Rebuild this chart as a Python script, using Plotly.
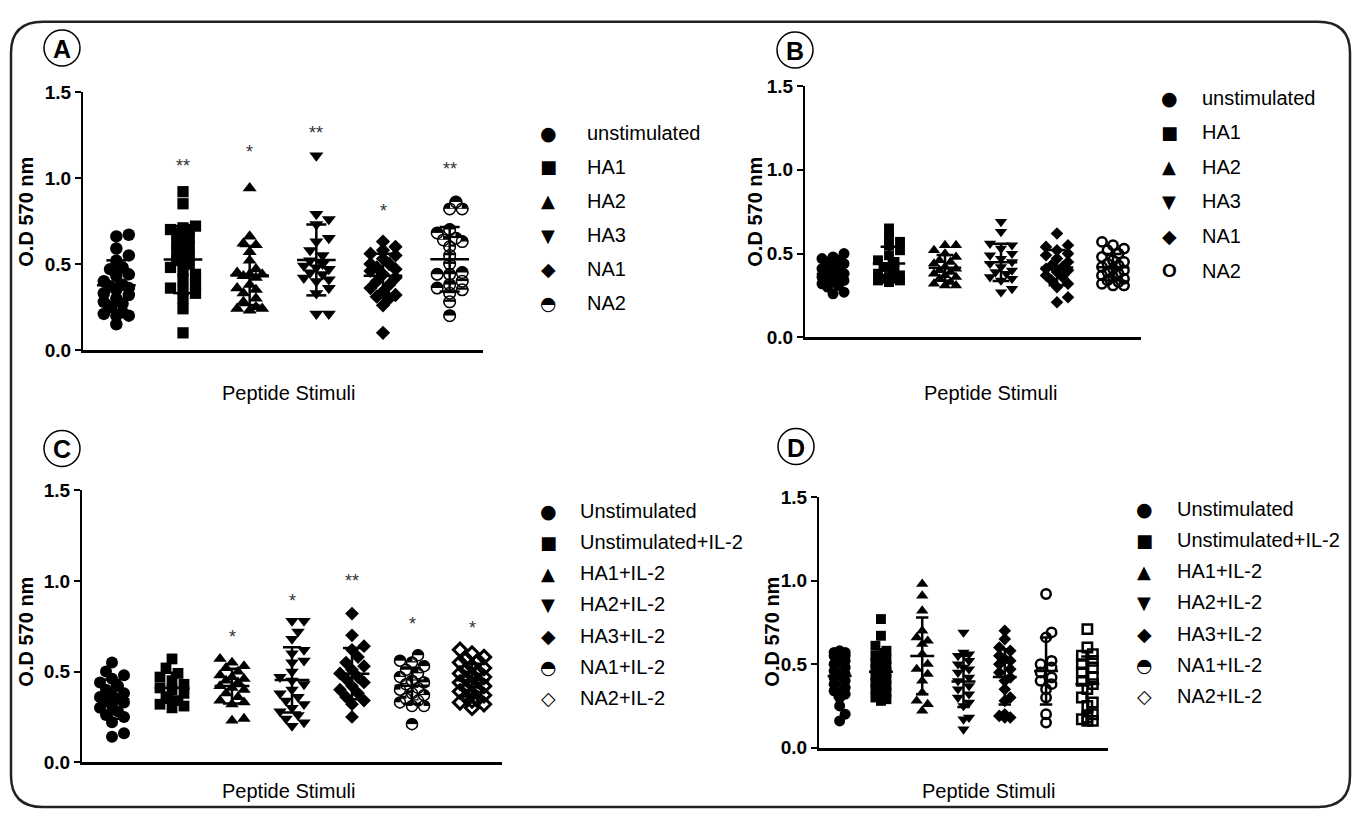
import numpy as np
import plotly.graph_objects as go

W, H = 1357, 820
FONT = "Liberation Sans, Arial, sans-serif"
GLYPH = "DejaVu Sans"

# ---------------- data ----------------
# Panel A
a_labels = ["unstimulated", "HA1", "HA2", "HA3", "NA1", "NA2"]
a_unstim = [0.67, 0.66, 0.59, 0.55, 0.52, 0.48, 0.47, 0.44, 0.43, 0.40, 0.38, 0.37, 0.36,
            0.35, 0.33, 0.32, 0.30, 0.28, 0.27, 0.25, 0.22, 0.21, 0.20, 0.20, 0.15]
a_ha1 = [0.92, 0.85, 0.72, 0.71, 0.70, 0.70, 0.68, 0.65, 0.62, 0.60, 0.57, 0.55, 0.52,
         0.50, 0.48, 0.46, 0.44, 0.41, 0.38, 0.36, 0.35, 0.33, 0.30, 0.24, 0.10]
a_ha2 = [0.94, 0.66, 0.62, 0.61, 0.57, 0.52, 0.47, 0.45, 0.44, 0.44, 0.43, 0.42, 0.38,
         0.36, 0.35, 0.33, 0.30, 0.28, 0.25, 0.24, 0.24, 0.23]
a_ha3 = [1.13, 0.79, 0.76, 0.73, 0.65, 0.63, 0.58, 0.55, 0.52, 0.50, 0.49, 0.48, 0.47,
         0.45, 0.44, 0.42, 0.41, 0.40, 0.36, 0.33, 0.21, 0.21]
a_na1 = [0.63, 0.60, 0.58, 0.56, 0.55, 0.53, 0.50, 0.50, 0.48, 0.47, 0.46, 0.44, 0.42,
         0.40, 0.38, 0.36, 0.34, 0.32, 0.31, 0.30, 0.26, 0.10]
a_na2 = [0.86, 0.82, 0.82, 0.70, 0.68, 0.65, 0.64, 0.63, 0.60, 0.55, 0.50, 0.45, 0.44,
         0.44, 0.40, 0.38, 0.36, 0.35, 0.33, 0.28, 0.20]
a_sig = ["", "**", "*", "**", "*", "**"]
a_sig_y = [None, 1.07, 1.15, 1.26, 0.81, 1.05]

# Panel B
b_labels = ["unstimulated", "HA1", "HA2", "HA3", "NA1", "NA2"]
b_unstim = [0.50, 0.48, 0.47, 0.46, 0.45, 0.44, 0.42, 0.41, 0.40, 0.39, 0.38, 0.37, 0.36,
            0.36, 0.35, 0.34, 0.33, 0.32, 0.31, 0.30, 0.27, 0.26]
b_ha1 = [0.65, 0.60, 0.57, 0.55, 0.52, 0.49, 0.46, 0.45, 0.42, 0.40, 0.38, 0.37, 0.36,
         0.35, 0.35, 0.34, 0.34, 0.33]
b_ha2 = [0.55, 0.55, 0.52, 0.50, 0.48, 0.46, 0.45, 0.44, 0.42, 0.41, 0.40, 0.39, 0.38,
         0.37, 0.36, 0.35, 0.33, 0.32, 0.31, 0.31]
b_ha3 = [0.69, 0.63, 0.56, 0.55, 0.53, 0.50, 0.49, 0.47, 0.45, 0.44, 0.42, 0.40, 0.39,
         0.38, 0.36, 0.35, 0.34, 0.29, 0.27]
b_na1 = [0.62, 0.55, 0.54, 0.52, 0.50, 0.49, 0.47, 0.45, 0.43, 0.42, 0.41, 0.40, 0.39,
         0.37, 0.36, 0.34, 0.32, 0.30, 0.24, 0.21]
b_na2 = [0.57, 0.55, 0.53, 0.52, 0.50, 0.48, 0.46, 0.45, 0.44, 0.43, 0.42, 0.41, 0.40,
         0.39, 0.38, 0.37, 0.36, 0.35, 0.34, 0.33, 0.32, 0.31, 0.31]
b_sig = [""] * 6
b_sig_y = [None] * 6

# Panel C
c_labels = ["Unstimulated", "Unstimulated+IL-2", "HA1+IL-2", "HA2+IL-2", "HA3+IL-2",
            "NA1+IL-2", "NA2+IL-2"]
c_unstim = [0.55, 0.50, 0.48, 0.46, 0.44, 0.42, 0.40, 0.38, 0.37, 0.36, 0.35, 0.34, 0.33,
            0.31, 0.30, 0.28, 0.26, 0.25, 0.22, 0.16, 0.14]
c_unstim_il2 = [0.57, 0.52, 0.49, 0.47, 0.45, 0.43, 0.41, 0.40, 0.38, 0.36, 0.34, 0.32,
                0.31, 0.30]
c_ha1 = [0.57, 0.55, 0.53, 0.52, 0.50, 0.48, 0.47, 0.46, 0.45, 0.44, 0.42, 0.41, 0.40,
         0.38, 0.36, 0.34, 0.33, 0.32, 0.24, 0.23]
c_ha2 = [0.78, 0.78, 0.72, 0.68, 0.62, 0.60, 0.56, 0.55, 0.50, 0.47, 0.45, 0.43, 0.40,
         0.38, 0.36, 0.34, 0.32, 0.30, 0.28, 0.26, 0.24, 0.22, 0.20]
c_ha3 = [0.82, 0.70, 0.64, 0.62, 0.58, 0.55, 0.53, 0.51, 0.49, 0.47, 0.46, 0.44, 0.42,
         0.40, 0.38, 0.36, 0.34, 0.32, 0.25]
c_na1 = [0.59, 0.56, 0.55, 0.53, 0.51, 0.49, 0.47, 0.45, 0.44, 0.43, 0.41, 0.40, 0.38,
         0.37, 0.35, 0.34, 0.33, 0.31, 0.31, 0.21]
c_na2 = [0.62, 0.60, 0.58, 0.57, 0.56, 0.55, 0.53, 0.52, 0.51, 0.50, 0.49, 0.48, 0.47,
         0.46, 0.45, 0.44, 0.43, 0.42, 0.41, 0.40, 0.39, 0.38, 0.37, 0.36, 0.35, 0.34,
         0.33, 0.32, 0.30]
c_sig = ["", "", "*", "*", "**", "*", "*"]
c_sig_y = [None, None, 0.69, 0.89, 1.00, 0.76, 0.74]

# Panel D
d_labels = ["Unstimulated", "Unstimulated+IL-2", "HA1+IL-2", "HA2+IL-2", "HA3+IL-2",
            "NA1+IL-2", "NA2+IL-2"]
d_unstim = [0.58, 0.57, 0.57, 0.56, 0.55, 0.55, 0.53, 0.52, 0.50, 0.48, 0.46, 0.44, 0.42,
            0.40, 0.38, 0.36, 0.34, 0.32, 0.30, 0.25, 0.20, 0.16]
d_unstim_il2 = [0.77, 0.67, 0.61, 0.58, 0.55, 0.53, 0.51, 0.49, 0.47, 0.45, 0.43, 0.41,
                0.39, 0.37, 0.35, 0.33, 0.31, 0.30, 0.29, 0.28]
d_ha1 = [0.98, 0.91, 0.82, 0.70, 0.66, 0.64, 0.62, 0.56, 0.50, 0.47, 0.44, 0.40, 0.33,
         0.28, 0.26, 0.22]
d_ha2 = [0.69, 0.57, 0.56, 0.55, 0.52, 0.50, 0.48, 0.47, 0.45, 0.42, 0.40, 0.37, 0.35,
         0.32, 0.30, 0.27, 0.25, 0.18, 0.17, 0.11]
d_ha3 = [0.70, 0.65, 0.60, 0.58, 0.55, 0.53, 0.52, 0.50, 0.47, 0.45, 0.42, 0.40, 0.35,
         0.30, 0.28, 0.20, 0.19, 0.18, 0.18]
d_na1 = [0.92, 0.69, 0.66, 0.52, 0.50, 0.48, 0.45, 0.42, 0.40, 0.38, 0.35, 0.30, 0.20,
         0.15]
d_na2 = [0.71, 0.60, 0.56, 0.55, 0.52, 0.50, 0.48, 0.45, 0.42, 0.40, 0.38, 0.35, 0.30,
         0.27, 0.25, 0.20, 0.18, 0.17, 0.16, 0.16]
d_sig = [""] * 7
d_sig_y = [None] * 7

y_ticks = [0.0, 0.5, 1.0, 1.5]
y_ticktext = ["0.0", "0.5", "1.0", "1.5"]

# ---------------- styles ----------------
SYM = {"circle": ("circle", 1.0, 0), "square": ("square", 0.9, 0),
       "triangle-up": ("triangle-up", 0.98, 0), "triangle-down": ("triangle-down", 0.98, 0),
       "diamond": ("diamond", 0.88, 0), "circle-open": ("circle-open", 0.85, 2.5),
       "square-open": ("square-open", 0.85, 2.5), "diamond-open": ("diamond-open", 0.85, 3)}

# legend glyphs: (text, font family, weight, size)
GLYPHS = {"circle": ("●", GLYPH, "normal", 19), "square": ("■", GLYPH, "normal", 18),
          "triangle-up": ("▲", GLYPH, "normal", 18), "triangle-down": ("▼", GLYPH, "normal", 18),
          "diamond": ("◆", GLYPH, "normal", 19), "half": ("◓", GLYPH, "normal", 19),
          "circle-open": ("O", FONT, "bold", 19), "square-open": ("□", GLYPH, "bold", 19),
          "diamond-open": ("◇", GLYPH, "bold", 19)}

TICKFONT = dict(family=FONT, size=19, color="black", weight="bold")

panels = [
    dict(key="A", groups=[a_unstim, a_ha1, a_ha2, a_ha3, a_na1, a_na2], labels=a_labels,
         kinds=["circle", "square", "triangle-up", "triangle-down", "diamond", "half"],
         leg_kinds=["circle", "square", "triangle-up", "triangle-down", "diamond", "half"],
         sig=a_sig, sig_y=a_sig_y,
         x0=83, x1=483, yb=349, yt=84, msize=12.5,
         ytitle=(26, 207), xtitle=(288, 393), letter=(62, 39),
         leg_x=(548, 585), leg_y0=126, leg_dy=35, leg_size=20),
    dict(key="B", groups=[b_unstim, b_ha1, b_ha2, b_ha3, b_na1, b_na2], labels=b_labels,
         kinds=["circle", "square", "triangle-up", "triangle-down", "diamond", "circle-open"],
         leg_kinds=["circle", "square", "triangle-up", "triangle-down", "diamond", "circle-open"],
         sig=b_sig, sig_y=b_sig_y,
         x0=805, x1=1141, yb=336, yt=78, msize=11,
         ytitle=(755, 207), xtitle=(990, 393), letter=(795, 41),
         leg_x=(1169, 1200), leg_y0=90, leg_dy=35.5, leg_size=20),
    dict(key="C", groups=[c_unstim, c_unstim_il2, c_ha1, c_ha2, c_ha3, c_na1, c_na2],
         labels=c_labels,
         kinds=["circle", "square", "triangle-up", "triangle-down", "diamond", "half", "diamond-open"],
         leg_kinds=["circle", "square", "triangle-up", "triangle-down", "diamond", "half", "diamond-open"],
         sig=c_sig, sig_y=c_sig_y,
         x0=82, x1=502, yb=772, yt=493, msize=12,
         ytitle=(26, 638), xtitle=(288, 802), letter=(62, 450),
         leg_x=(548, 578), leg_y0=514, leg_dy=32, leg_size=20),
    dict(key="D", groups=[d_unstim, d_unstim_il2, d_ha1, d_ha2, d_ha3, d_na1, d_na2],
         labels=d_labels,
         kinds=["circle", "square", "triangle-up", "triangle-down", "diamond", "circle-open", "square-open"],
         leg_kinds=["circle", "square", "triangle-up", "triangle-down", "diamond", "half", "diamond-open"],
         sig=d_sig, sig_y=d_sig_y,
         x0=819, x1=1108, yb=757, yt=500, msize=11,
         ytitle=(772, 638), xtitle=(988, 802), letter=(796, 448),
         leg_x=(1144, 1175), leg_y0=512, leg_dy=32, leg_size=20),
]


def fx(x):
    return x / W


def fy(y):
    return 1 - y / H


def swarm(values, d, ppu, max_off):
    """Deterministic beeswarm offsets (pixels) so overlapping points spread sideways."""
    order = sorted(range(len(values)), key=lambda i: values[i])
    placed, off = [], [0.0] * len(values)
    step = d * 0.5
    n = int(max_off // step)
    cands = [0.0]
    for k in range(1, n + 1):
        cands += [k * step, -k * step]
    for i in order:
        y = values[i] * ppu
        chosen, best, bx = None, -1.0, 0.0
        for c in cands:
            md = min([np.hypot(c - px, y - py) for px, py in placed] or [1e9])
            if md >= 0.7 * d:
                chosen = c
                break
            if md > best:
                best, bx = md, c
        if chosen is None:
            chosen = bx
        placed.append((chosen, y))
        off[i] = chosen
    return off


def note(x, y, text, size, family=FONT, weight="normal", color="black", xanchor="center",
         angle=0):
    return dict(x=fx(x), y=fy(y), xref="paper", yref="paper", text=text, showarrow=False,
                xanchor=xanchor, yanchor="middle", textangle=angle,
                font=dict(family=family, size=size, color=color, weight=weight))


fig = go.Figure()
annotations = []
shapes = []

for pi, p in enumerate(panels):
    n = len(p["groups"])
    ax = "" if pi == 0 else str(pi + 1)
    xa, ya = "x" + ax, "y" + ax
    ppu = (p["yb"] - p["yt"]) / 1.5
    ppc = (p["x1"] - p["x0"]) / n
    mx, my = [], []
    for gi, (vals, kind) in enumerate(zip(p["groups"], p["kinds"])):
        vals = np.array(vals, dtype=float)
        d = p["msize"]
        offs = swarm(list(vals), d, ppu, 0.26 * ppc)
        xs = gi + np.array(offs) / ppc
        common = dict(xaxis=xa, yaxis=ya, showlegend=False, cliponaxis=False,
                      name=p["labels"][gi])
        if kind == "half":
            # half-filled circle: black disc, white lower half, black outline
            fig.add_trace(go.Scatter(x=xs, y=vals, mode="markers",
                                     marker=dict(symbol="circle", size=d, color="black",
                                                 line=dict(width=0)), **common))
            fig.add_trace(go.Scatter(x=xs, y=vals - 0.25 * d / ppu, mode="markers",
                                     hoverinfo="skip",
                                     marker=dict(symbol="line-ew", size=0.66 * d, color="white",
                                                 line=dict(width=0.5 * d, color="white")),
                                     **common))
            fig.add_trace(go.Scatter(x=xs, y=vals, mode="markers", hoverinfo="skip",
                                     marker=dict(symbol="circle-open", size=d - 1, color="black",
                                                 line=dict(width=1.5, color="black")),
                                     **common))
        else:
            sym, sc, lw = SYM[kind]
            mk = dict(symbol=sym, size=d * sc, color="black",
                      line=dict(width=lw, color="black"))
            fig.add_trace(go.Scatter(x=xs, y=vals, mode="markers", marker=mk, **common))
        m = float(vals.mean())
        s = float(vals.std(ddof=1))
        hw, cw = 0.29, 0.15
        mx += [gi - hw, gi + hw, None, gi, gi, None,
               gi - cw, gi + cw, None, gi - cw, gi + cw, None]
        my += [m, m, None, m - s, m + s, None,
               m + s, m + s, None, m - s, m - s, None]
    fig.add_trace(go.Scatter(x=mx, y=my, mode="lines", xaxis=xa, yaxis=ya,
                             line=dict(color="black", width=2.5), showlegend=False,
                             hoverinfo="skip", cliponaxis=False))

    xdom = [fx(p["x0"]), fx(p["x1"])]
    ydom = [fy(p["yb"]), fy(p["yt"])]
    fig.update_layout(**{
        "xaxis" + ax: dict(domain=xdom, anchor=ya, range=[-0.5, n - 0.5], showline=True,
                           linecolor="black", linewidth=2.5, ticks="", showticklabels=False,
                           showgrid=False, zeroline=False, fixedrange=True),
        "yaxis" + ax: dict(domain=ydom, anchor=xa, range=[0, 1.5], tickvals=y_ticks,
                           ticktext=y_ticktext, ticks="outside", ticklen=6, tickwidth=2,
                           tickcolor="black", showline=True, linecolor="black", linewidth=2,
                           showgrid=False, zeroline=False, tickfont=TICKFONT,
                           fixedrange=True),
    })

    # significance marks
    for gi, (t, yv) in enumerate(zip(p["sig"], p["sig_y"])):
        if t:
            annotations.append(dict(x=gi, y=yv, xref=xa, yref=ya, text=t, showarrow=False,
                                    xanchor="center", yanchor="middle",
                                    font=dict(family=FONT, size=18, color="#333333")))

    # axis titles
    annotations.append(note(*p["ytitle"], "O.D 570 nm", 20, weight="bold", angle=-90))
    annotations.append(note(*p["xtitle"], "Peptide Stimuli", 20))

    # circled panel letter
    cx, cy = p["letter"]
    shapes.append(dict(type="circle", xref="paper", yref="paper", xsizemode="pixel",
                       ysizemode="pixel", xanchor=fx(cx), yanchor=fy(cy), x0=-18, x1=18,
                       y0=-18, y1=18, line=dict(color="black", width=1.5)))
    annotations.append(note(cx, cy + 1, p["key"], 25, weight="bold"))

    # legend (glyph + label)
    gx, tx = p["leg_x"]
    for li, (lab, kind) in enumerate(zip(p["labels"], p["leg_kinds"])):
        ry = p["leg_y0"] + li * p["leg_dy"]
        g, fam, wt, gs = GLYPHS[kind]
        annotations.append(note(gx, ry, g, gs, family=fam, weight=wt))
        annotations.append(note(tx, ry, lab, p["leg_size"], xanchor="left"))

# outer rounded frame
L, T, R, B, r = 11, 12, 1350, 818, 32
pts = [("M", L + r, T), ("L", R - r, T), ("Q", R, T, R, T + r), ("L", R, B - r),
       ("Q", R, B, R - r, B), ("L", L + r, B), ("Q", L, B, L, B - r), ("L", L, T + r),
       ("Q", L, T, L + r, T)]
path = ""
for seg in pts:
    cmd, coords = seg[0], seg[1:]
    pairs = [f"{fx(coords[i]):.5f},{fy(coords[i + 1]):.5f}" for i in range(0, len(coords), 2)]
    path += cmd + " " + " ".join(pairs) + " "
path += "Z"
shapes.append(dict(type="path", path=path, xref="paper", yref="paper",
                   line=dict(color="#222222", width=2.5)))

fig.update_layout(width=W, height=H, margin=dict(l=0, r=0, t=0, b=0),
                  paper_bgcolor="white", plot_bgcolor="white", showlegend=False,
                  annotations=annotations, shapes=shapes,
                  font=dict(family=FONT, color="black"))

fig.write_html("out.html", config={"displayModeBar": False},
               post_script="document.body.style.margin='0';"
                           "document.body.style.overflow='hidden';")
